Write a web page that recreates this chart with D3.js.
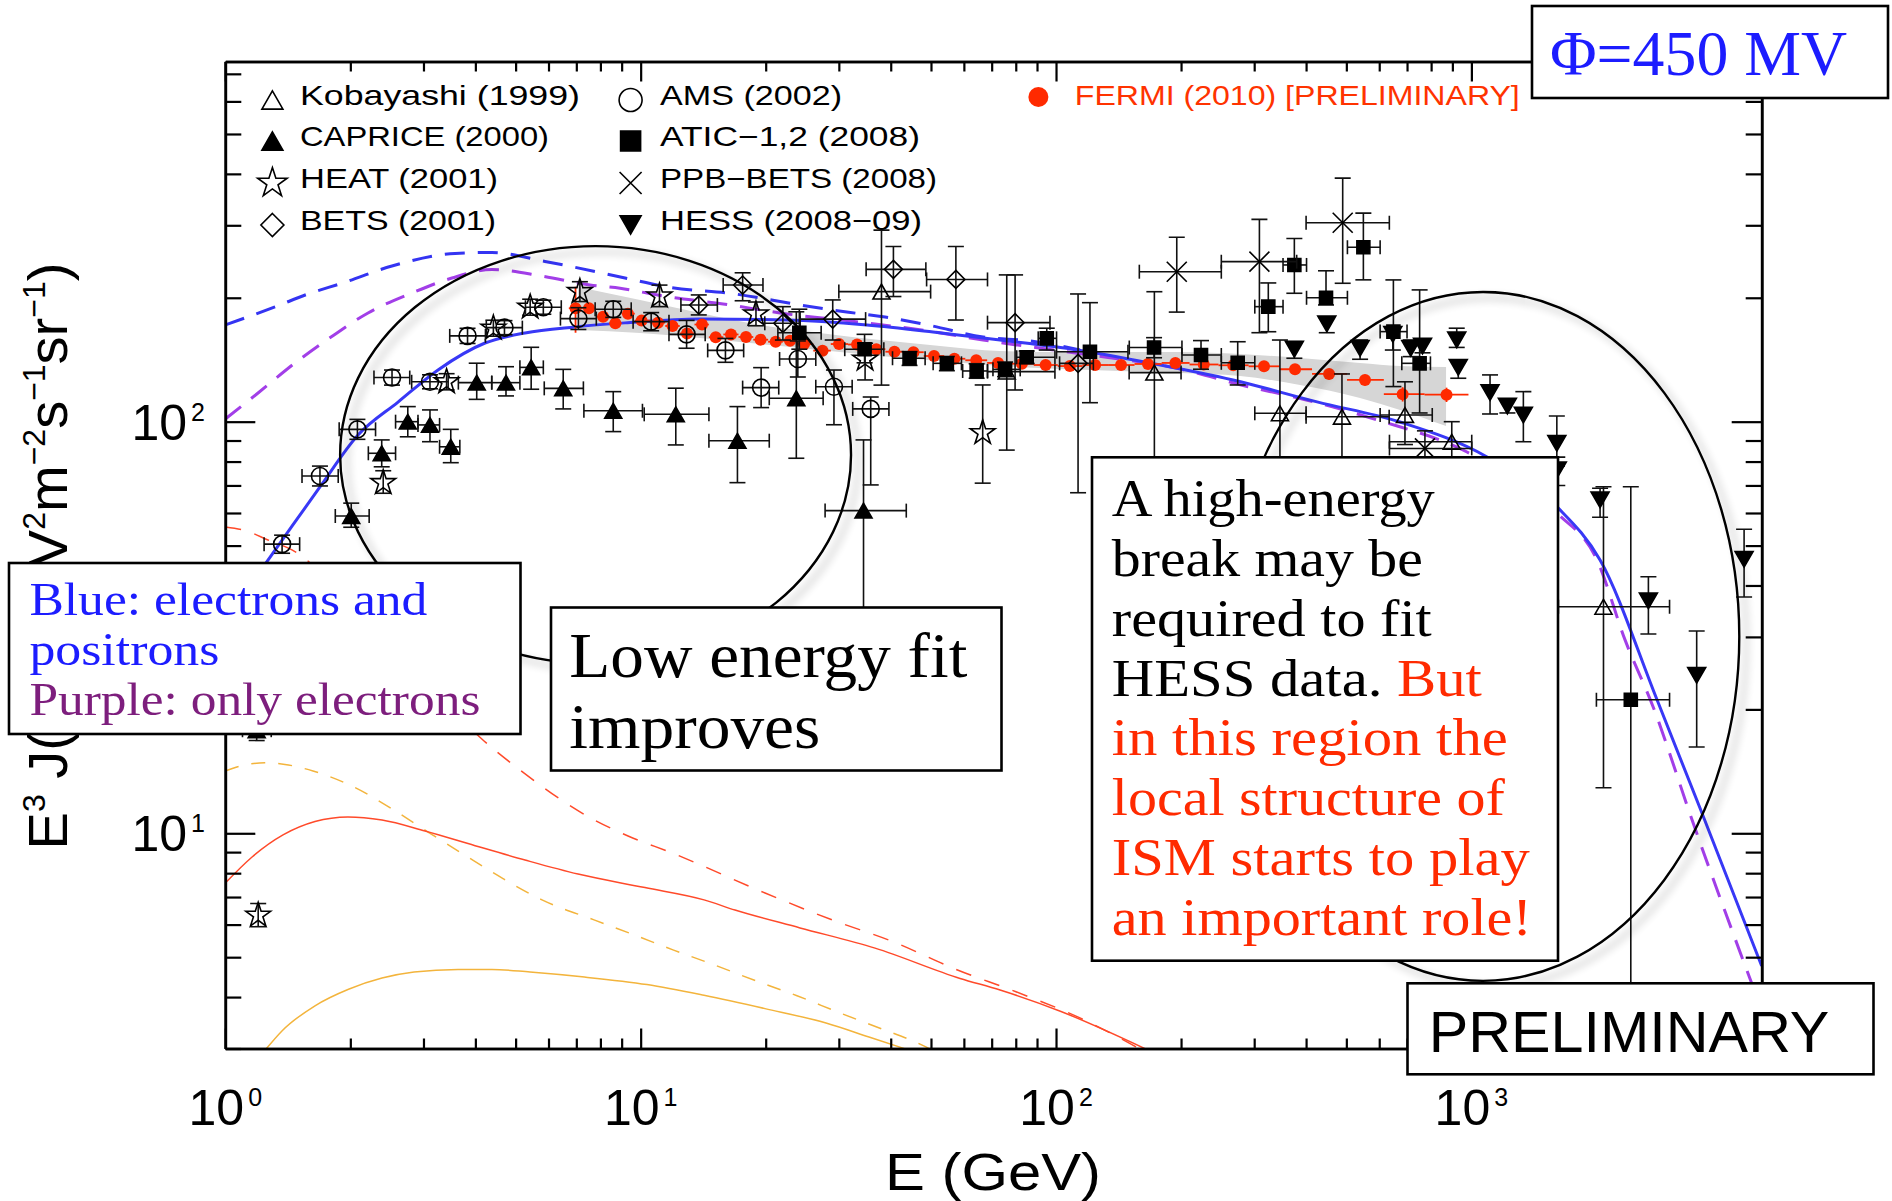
<!DOCTYPE html>
<html>
<head>
<meta charset="utf-8">
<script src="https://cdn.jsdelivr.net/npm/d3@7"></script>
<style>
  body { margin: 0; background: #fff; }
  svg { display: block; }
</style>
</head>
<body>
<svg id="chart" width="1892" height="1201"></svg>
<script>
// ---------------- data (E in GeV, E^3 J in GeV^2 m^-2 s^-1 sr^-1) ----------------
// point rows: [E, value, E low, E high, value low, value high]
const kobayashiData = [
  [38.0, 207, 30.0, 49.9, 122.7, 292],
  [76.1, 132.3, 68.4, 99.4, 85.3, 227.3],
  [172.5, 131.6, 150, 200, 82.1, 206.9],
  [346, 104.8, 301, 400, 60, 157.9],
  [488, 102.8, 400, 634, 60, 130.6],
  [692, 103.8, 603, 805, 88, 125],
  [897, 89.4, 635, 1002, 70, 100],
  [2080, 35.5, 1620, 3000, 12.9, 69.5]
];
const capriceData = [
  [1.19, 17.8, 1.10, 1.29, 16.8, 18.9],
  [2.01, 59.0, 1.84, 2.22, 55.4, 63.4],
  [2.38, 83.8, 2.21, 2.57, 77.7, 90.3],
  [2.75, 100, 2.57, 2.91, 91.9, 108.8],
  [3.11, 98.2, 2.91, 3.28, 89.4, 106.8],
  [3.49, 86.9, 3.28, 3.67, 79.5, 95.8],
  [4.03, 124.4, 3.64, 4.38, 113.3, 138.7],
  [4.74, 124.4, 4.38, 5.12, 115.5, 136.0],
  [5.45, 135.5, 5.12, 5.83, 119.9, 151.6],
  [6.51, 120.5, 5.86, 7.28, 107.4, 134.0],
  [8.59, 106.3, 7.30, 10.1, 94.6, 118.3],
  [12.15, 104.2, 10.2, 14.6, 87.8, 120.6],
  [17.1, 89.9, 14.6, 20.4, 71.1, 108.8],
  [23.7, 114, 20.4, 27.5, 81.5, 184.9],
  [34.4, 60.8, 27.8, 43.6, 20, 90.3]
];
const heatData = [
  [1.20, 6.32, null, null, 5.93, 6.75],
  [2.40, 71.1, null, null, 67.0, 76.0],
  [3.41, 125, null, null, 119.5, 130.8],
  [4.42, 168.7, null, null, 161.3, 176.4],
  [5.42, 189.7, null, null, 181.4, 198.4],
  [7.14, 207, null, null, 195.8, 218.8],
  [11.1, 202, null, null, 190.3, 214.7],
  [18.95, 182.7, null, null, 171, 195.3],
  [34.7, 141.8, null, null, 126.3, 155.1],
  [66.6, 94.0, null, null, 70.9, 122.8]
];
const betsData = [
  [13.8, 192, 12.5, 15.3, 181.7, 203.2],
  [17.6, 214.8, 15.8, 19.7, 196.7, 230],
  [22.0, 173.4, 19.9, 24.2, 157.9, 190.3],
  [29.0, 177.5, 24.2, 34.8, 157.9, 197.6],
  [40.6, 234.5, 34.9, 48.6, 201.4, 266.4],
  [57.4, 221.6, 48.8, 68.4, 176.6, 266.4],
  [79.7, 174, 68.4, 96.7, 119.4, 227.3],
  [113, 138.6, 102, 123, 67.2, 204.3]
];
const amsData = [
  [1.37, 50.4, 1.24, 1.51, 47.9, 53.0],
  [1.69, 73.8, 1.53, 1.87, 69.8, 78.0],
  [2.08, 95.8, 1.88, 2.30, 90.6, 101.3],
  [2.52, 128, 2.28, 2.78, 122.7, 133.5],
  [3.11, 125, 2.81, 3.44, 120.2, 130],
  [3.83, 161.6, 3.47, 4.23, 154.9, 168.6],
  [4.70, 169.2, 4.25, 5.19, 162.7, 176],
  [5.83, 189.7, 5.28, 6.44, 182.4, 197.3],
  [7.08, 178, 6.41, 7.82, 167.5, 189.2],
  [8.59, 187.5, 7.77, 9.49, 179.2, 196.1],
  [10.6, 175, 9.59, 11.7, 166.3, 184.1],
  [12.9, 163, 11.7, 14.3, 150.8, 176.2],
  [16.0, 149, 14.5, 17.7, 139.4, 159.3],
  [19.5, 121, 17.6, 21.5, 108.2, 135.3],
  [23.9, 142, 21.6, 26.4, 128.4, 157.1],
  [29.2, 121.6, 26.4, 32.3, 98.3, 133.5],
  [35.8, 107.4, 32.4, 39.6, 70.2, 114.8]
];
const aticData = [
  [24.1, 164.4, 21.4, 27.2, 150, 187.6],
  [34.6, 150, 31.0, 38.5, 139, 163],
  [44.4, 142.6, 40.4, 48.4, 137, 148],
  [54.6, 138.6, 50.6, 59.2, 133, 144],
  [64.4, 132.8, 59.6, 68.4, 127.5, 138.3],
  [75.4, 134, 70.5, 82.0, 128.6, 139.6],
  [85.0, 143.4, 80.4, 99.4, 138.5, 148.5],
  [95.0, 159.4, 90.6, 100.3, 149.3, 168.7],
  [120.7, 147.9, 100.3, 149, 111.2, 194.6],
  [172.2, 151.4, 150.1, 201, 143, 160],
  [223.4, 145.2, 201, 250, 134.1, 157.4],
  [273.8, 139, 250, 301, 122.8, 156.4],
  [324.4, 190.3, 301, 352, 165.4, 217.3],
  [374.8, 240.3, 352, 401, 205.1, 278.6],
  [446.7, 200, 401, 503, 192.1, 232.6],
  [549.5, 265.3, 503, 603, 221.1, 321.1],
  [649, 165.5, 603, 700, 121.7, 221],
  [750.6, 138.6, 680, 797, 105, 209],
  [2420, 21.1, 2000, 3000, 2.5, 69.5]
];
const ppbBetsData = [
  [195.3, 231.4, 158.7, 250, 184.6, 280.6],
  [308.8, 244.8, 250, 379.7, 164.5, 310.1],
  [490, 304.4, 400, 634.6, 216.9, 390.5],
  [773, 86.1, 635, 1002, 78, 95]
];
const hessData = [
  [374.8, 150, null, null, 142.6, 156.4],
  [448.6, 172.8, null, null, 164.5, 178.6],
  [539.6, 150.7, null, null, 141.8, 157.9],
  [647, 163, null, null, 149.3, 170.1],
  [714.5, 150.7, null, null, 143.9, 157.9],
  [762.7, 152.7, null, null, 147, 159],
  [922, 158, null, null, 151.5, 168.7],
  [930, 135.5, null, null, 127.5, 140.4],
  [1109, 117.7, null, null, 104.4, 129.9],
  [1221, 109.1, null, null, 105.0, 112.9],
  [1334, 103.8, null, null, 89.4, 118.3],
  [1606, 88.6, null, null, 78, 103.2],
  [1610, 76.4, null, null, 70, 82],
  [2041, 64.6, null, null, 58.6, 68.9],
  [2668, 36.7, null, null, 30.5, 42.0],
  [3487, 24.2, null, null, 16.2, 31.0],
  [4535, 46.3, null, null, 37.5, 54.8]
];

// Fermi LAT (preliminary) spectrum with systematic band
const fermiE = [6.97, 7.51, 8.12, 8.69, 9.32, 10.05, 11.01, 11.93, 12.93, 14.05, 15.16, 16.50,
  17.93, 19.44, 21.14, 22.89, 24.74, 27.41, 30.03, 33.19, 36.93, 40.83, 45.37, 50.85, 56.93,
  64.26, 72.52, 82.75, 94.41, 108.0, 124.2, 143.4, 166.5, 193.8, 226.8, 267.1, 316.8, 376.2,
  454.3, 554.5, 683.2, 871.3];
const fermiV = [188.6, 188.6, 179.9, 173.4, 183.0, 176.0, 174.0, 170.8, 163.8, 172.2, 160.4, 162.9,
  160.6, 158.2, 156.4, 157.3, 154.4, 148.8, 154.4, 154.0, 150.0, 147.9, 147.5, 144.4, 142.2,
  141.0, 138.9, 138.3, 137.3, 136.5, 137.3, 137.3, 138.1, 138.9, 137.7, 137.1, 136.3, 134.1,
  130.6, 126.3, 116.6, 116.3];
const fermiRelErr = [0.128, 0.02, 0.02, 0.02, 0.02, 0.02, 0.02, 0.02, 0.02, 0.02, 0.02, 0.02,
  0.02, 0.02, 0.02, 0.02, 0.02, 0.02, 0.02, 0.02, 0.02, 0.02, 0.02, 0.02, 0.02,
  0.02, 0.02, 0.02, 0.02, 0.02, 0.02, 0.02, 0.02, 0.02, 0.02, 0.02, 0.025, 0.025,
  0.03, 0.03, 0.04, 0.04];
const bandE  = [7.07, 9.97, 13.9, 19.4, 27.0, 37.7, 52.6, 73.3, 102.2, 142.6, 198.9, 277.3, 386.7, 539.3, 673.4, 869];
const bandHi = [212.5, 197.6, 183.7, 171.8, 164.3, 157.9, 152.7, 148.5, 147.7, 147.7, 147.7, 146.0, 142.8, 138.9, 136.6, 135.8];
const bandLo = [167.1, 164.3, 159.7, 154.4, 149.4, 144.4, 140.4, 136.6, 134.3, 132.8, 131.3, 129.1, 122.8, 114.2, 106.8, 97.6];

// model curves: [E, E^3 J]
const blueSolid = [[1.0, 33.0], [1.267, 46.1], [1.377, 51.9], [1.690, 69.4], [2.087, 92.8], [2.605, 111.6],
  [3.252, 133.6], [4.220, 155.3], [5.268, 164.3], [6.95, 169.9], [9.17, 173.8], [13.9, 177.7],
  [22.51, 176.7], [35.07, 171.8], [50.57, 165.2], [73.33, 157.9], [112.4, 149.4], [168.4, 138.9],
  [266.9, 126.3], [425.1, 111.7], [673.5, 99.8], [1091, 82.1], [1608, 62.1], [2041, 46.1],
  [2799, 21.1], [3553, 11.5], [5000, 4.76]];
const blueDashed = [[1.0, 171.8], [1.317, 190.0], [1.582, 204.3], [1.920, 217.3], [2.519, 238.9],
  [3.573, 256.3], [4.386, 257.7], [5.885, 245.1], [9.17, 223.4], [11.57, 212.5], [16.87, 204.3],
  [24.19, 192.1], [30.70, 185.2], [38.76, 179.6], [49.76, 171.3], [66.74, 160.6], [86.56, 157.1],
  [114.2, 149.4]];
const purpleDashed = [[1.0, 101.5], [1.199, 117.4], [1.472, 138.9], [1.797, 160.6], [2.206, 183.7],
  [2.816, 205.5], [3.513, 223.4], [4.386, 234.3], [5.787, 225.9], [7.552, 214.8], [8.920, 210.9],
  [11.57, 201.2], [15.79, 193.2], [22.51, 182.7], [31.39, 176.0], [50.57, 165.4], [66.74, 157.9],
  [112.4, 146.6], [195.6, 134.8], [290.0, 121.6], [372.0, 115.0], [592.9, 101.0], [976, 84.4],
  [1608, 60.0], [2007, 46.1], [2344, 29.5], [2738, 20.3], [3418, 10.6], [5000, 3.72]];
const redSolid = [[1.0, 7.57], [1.160, 8.76], [1.377, 9.91], [1.644, 10.68], [1.974, 10.96], [2.384, 10.77],
  [3.026, 10.13], [3.993, 9.33], [5.268, 8.61], [7.068, 7.96], [10.24, 7.38], [14.21, 6.89],
  [16.87, 6.51], [24.19, 5.89], [36.67, 5.26], [58.74, 4.44], [73.33, 4.16], [102.8, 3.69], [164.7, 2.99]];
const redDashed = [[1.0, 55.5], [1.122, 54.3], [1.267, 51.6], [1.447, 48.8], [1.889, 39.0], [2.492, 29.5],
  [3.289, 21.4], [4.197, 16.76], [5.124, 14.25], [7.469, 10.98], [9.325, 9.85], [11.96, 8.94],
  [19.93, 7.16], [28.89, 6.16], [40.74, 5.44], [57.14, 4.68], [80.10, 4.12], [114.2, 3.56], [159.4, 2.99]];
const orangeSolid = [[1.253, 2.99], [1.369, 3.31], [1.644, 3.81], [1.980, 4.18], [2.384, 4.45], [2.847, 4.60],
  [3.634, 4.67], [4.386, 4.67], [5.415, 4.60], [7.225, 4.48], [10.36, 4.29], [14.21, 4.04],
  [19.93, 3.75], [27.94, 3.46], [35.46, 3.20], [43.53, 2.99]];
const orangeDashed = [[1.0, 14.17], [1.115, 14.66], [1.246, 14.83], [1.392, 14.70], [1.626, 14.17],
  [2.052, 12.92], [2.519, 11.46], [3.076, 10.07], [3.777, 8.84], [4.663, 7.76], [5.787, 6.89],
  [7.722, 6.16], [9.532, 5.69], [11.96, 5.21], [15.02, 4.79], [18.95, 4.38], [23.79, 4.03],
  [30.20, 3.66], [37.69, 3.36], [46.53, 3.09], [49.74, 2.99]];

// highlighted regions: [E min, E max, value min, value max]
const lowRegion = [1.89, 32.1, 25.8, 267];
const highRegion = [257.8, 4416, 4.38, 206.6];

// axis tick labels
const xTickValues = [1, 10, 100, 1000];
const xTickExponents = ["0", "1", "2", "3"];
const yTickValues = [10, 100];
const yTickExponents = ["1", "2"];

const legendLabels = ["Kobayashi (1999)", "CAPRICE (2000)", "HEAT (2001)", "BETS (2001)",
  "AMS (2002)", "ATIC\u22121,2 (2008)", "PPB\u2212BETS (2008)", "HESS (2008\u221209)"];
const fermiLabel = "FERMI (2010) [PRELIMINARY]";

// ---------------- drawing ----------------
const RED = "#ff2a00";
const BLUE_TXT = "#1c1cff";
const PURPLE_TXT = "#7d1e7d";
const SANS = "'Liberation Sans', Arial, sans-serif";
const SERIF = "'Liberation Serif', 'Times New Roman', serif";

const svg = d3.select("#chart");
const x = d3.scaleLog().domain([1, 5000]).range([225.3, 1761.7]);
const y = d3.scaleLog().domain([3, 750]).range([1048.5, 61.5]);
const [xl, xr] = x.range();
const [yb, yt] = y.range();

const defs = svg.append("defs");
defs.append("clipPath").attr("id", "plotClip").append("rect")
  .attr("x", xl).attr("y", yt).attr("width", xr - xl).attr("height", yb - yt);

const shadow = defs.append("filter").attr("id", "softShadow")
  .attr("x", "-10%").attr("y", "-10%").attr("width", "130%").attr("height", "130%");
shadow.append("feGaussianBlur").attr("in", "SourceAlpha").attr("stdDeviation", 4).attr("result", "blur");
shadow.append("feOffset").attr("in", "blur").attr("dx", 7).attr("dy", 6).attr("result", "off");
shadow.append("feComponentTransfer").attr("in", "off").attr("result", "faint")
  .append("feFuncA").attr("type", "linear").attr("slope", 0.32);
const merge = shadow.append("feMerge");
merge.append("feMergeNode").attr("in", "faint");
merge.append("feMergeNode").attr("in", "SourceGraphic");

const plot = svg.append("g").attr("clip-path", "url(#plotClip)");

// systematic band
const bandRows = bandE.map((e, i) => [e, bandLo[i], bandHi[i]]);
plot.append("path")
  .attr("d", d3.area().x(d => x(d[0])).y0(d => y(d[1])).y1(d => y(d[2])).curve(d3.curveMonotoneX)(bandRows))
  .attr("fill", "#d6d6d6");

// model curves
const line = d3.line().x(d => x(d[0])).y(d => y(d[1])).curve(d3.curveMonotoneX);
const curveStyles = [
  [orangeSolid, "#f3b43c", 1.5, null],
  [orangeDashed, "#f3b43c", 1.5, "14,13"],
  [redSolid, "#ff4a2a", 1.5, null],
  [redDashed, "#ff4a2a", 1.5, "16,14"],
  [purpleDashed, "#a23ee8", 3, "20,13"],
  [blueDashed, "#3434f2", 3, "20,13"],
  [blueSolid, "#3838f6", 3, null]
];
curveStyles.forEach(([pts, col, w, dash]) => {
  plot.append("path").attr("d", line(pts)).attr("fill", "none")
    .attr("stroke", col).attr("stroke-width", w)
    .attr("stroke-dasharray", dash);
});

// marker shapes
function starPath(s) {
  const R = s / 2, r = R * 0.382;
  let p = "";
  for (let i = 0; i < 10; i++) {
    const a = -Math.PI / 2 + i * Math.PI / 5;
    const rr = i % 2 === 0 ? R : r;
    p += (i === 0 ? "M" : "L") + (rr * Math.cos(a)).toFixed(2) + "," + (rr * Math.sin(a)).toFixed(2);
  }
  return p + "Z";
}
const shapes = {
  triUp: s => { const h = s * 0.87; return `M0,${-h / 2}L${s / 2},${h / 2}L${-s / 2},${h / 2}Z`; },
  triDown: s => { const h = s * 0.87; return `M0,${h / 2}L${s / 2},${-h / 2}L${-s / 2},${-h / 2}Z`; },
  diamond: s => `M0,${-s / 2}L${s / 2},0L0,${s / 2}L${-s / 2},0Z`,
  square: s => `M${-s / 2},${-s / 2}h${s}v${s}h${-s}Z`,
  cross: s => `M${-s / 2},${-s / 2}L${s / 2},${s / 2}M${-s / 2},${s / 2}L${s / 2},${-s / 2}`,
  circle: s => `M${s / 2},0A${s / 2},${s / 2} 0 1,1 ${-s / 2},0A${s / 2},${s / 2} 0 1,1 ${s / 2},0Z`,
  star: starPath
};

function drawErrors(g, rows, color, sw, capH, capW) {
  rows.forEach(([E, V, Elo, Ehi, Vlo, Vhi]) => {
    const cx = x(E), cy = y(V);
    if (Elo != null && Ehi != null) {
      const x0 = x(Elo), x1 = x(Ehi);
      g.append("line").attr("x1", x0).attr("x2", x1).attr("y1", cy).attr("y2", cy);
      if (capH) {
        [x0, x1].forEach(px => g.append("line").attr("x1", px).attr("x2", px).attr("y1", cy - capH).attr("y2", cy + capH));
      }
    }
    if (Vlo != null && Vhi != null) {
      const y0 = y(Vlo), y1 = y(Vhi);
      g.append("line").attr("x1", cx).attr("x2", cx).attr("y1", y0).attr("y2", y1);
      if (capW) {
        [y0, y1].forEach(py => g.append("line").attr("x1", cx - capW).attr("x2", cx + capW).attr("y1", py).attr("y2", py));
      }
    }
  });
  g.selectAll("line").attr("stroke", color).attr("stroke-width", sw);
}

// Fermi points
const fermiRows = fermiE.map((e, i) => {
  const prev = i > 0 ? fermiE[i - 1] : fermiE[i] * fermiE[i] / fermiE[i + 1];
  const next = i < fermiE.length - 1 ? fermiE[i + 1] : fermiE[i] * fermiE[i] / fermiE[i - 1];
  return [e, fermiV[i], Math.sqrt(prev * e), Math.sqrt(e * next),
    fermiV[i] * (1 - fermiRelErr[i]), fermiV[i] * (1 + fermiRelErr[i])];
});
const fermiG = plot.append("g");
drawErrors(fermiG.append("g"), fermiRows, RED, 1.8, 0, 0);
fermiG.selectAll("circle").data(fermiRows).join("circle")
  .attr("cx", d => x(d[0])).attr("cy", d => y(d[1])).attr("r", 6).attr("fill", RED);

// other experiments
const seriesStyle = [
  [kobayashiData, "triUp", 17, false],
  [capriceData, "triUp", 17, true],
  [heatData, "star", 26, false],
  [betsData, "diamond", 18, false],
  [amsData, "circle", 17, false],
  [aticData, "square", 13, true],
  [ppbBetsData, "cross", 20, false],
  [hessData, "triDown", 18, true]
];
seriesStyle.forEach(([rows, shape, size, filled]) => {
  const g = plot.append("g");
  drawErrors(g.append("g"), rows, "#111", 1.6, 7, 8);
  g.selectAll("path.mk").data(rows).join("path").attr("class", "mk")
    .attr("transform", d => `translate(${x(d[0])},${y(d[1])})`)
    .attr("d", shapes[shape](size))
    .attr("fill", filled ? "#000" : "none")
    .attr("stroke", "#000").attr("stroke-width", 1.6);
});

// axes: ticks on all four sides pointing inward
const xAll = x.ticks();
const yAll = y.ticks();
const isDecade = v => Math.abs(Math.log10(v) - Math.round(Math.log10(v))) < 1e-9;
const xMajor = xAll.filter(isDecade), xMinor = xAll.filter(v => !isDecade(v));
const yMajor = yAll.filter(isDecade), yMinor = yAll.filter(v => !isDecade(v));
function axisLayer(axisFn, values, size, transform) {
  const g = svg.append("g").attr("transform", transform)
    .call(axisFn.tickValues(values).tickSize(size).tickSizeOuter(0).tickFormat(""));
  g.select(".domain").attr("stroke-width", 2.6).attr("stroke", "#000");
  g.selectAll(".tick line").attr("stroke-width", 2.2).attr("stroke", "#000");
}
axisLayer(d3.axisBottom(x), xMinor, -10, `translate(0,${yb})`);
axisLayer(d3.axisBottom(x), xMajor, -20, `translate(0,${yb})`);
axisLayer(d3.axisTop(x), xMinor, -10, `translate(0,${yt})`);
axisLayer(d3.axisTop(x), xMajor, -20, `translate(0,${yt})`);
axisLayer(d3.axisLeft(y), yMinor, -16, `translate(${xl},0)`);
axisLayer(d3.axisLeft(y), yMajor, -30, `translate(${xl},0)`);
axisLayer(d3.axisRight(y), yMinor, -16, `translate(${xr},0)`);
axisLayer(d3.axisRight(y), yMajor, -30, `translate(${xr},0)`);

// tick labels 10^n
xTickValues.forEach((v, i) => {
  const t = svg.append("text").attr("x", x(v)).attr("y", 1125).attr("text-anchor", "middle")
    .attr("font-family", SANS).attr("font-size", 50).attr("fill", "#000");
  t.append("tspan").text("10");
  t.append("tspan").attr("dy", -19).attr("dx", 4).attr("font-size", 25).text(xTickExponents[i]);
});
yTickValues.forEach((v, i) => {
  const t = svg.append("text").attr("x", 205).attr("y", y(v) + 18).attr("text-anchor", "end")
    .attr("font-family", SANS).attr("font-size", 50).attr("fill", "#000");
  t.append("tspan").text("10");
  t.append("tspan").attr("dy", -19).attr("dx", 4).attr("font-size", 25).text(yTickExponents[i]);
});

// axis titles
svg.append("text").attr("x", 993).attr("y", 1190).attr("text-anchor", "middle")
  .attr("font-family", SANS).attr("font-size", 52).attr("textLength", 216)
  .attr("lengthAdjust", "spacingAndGlyphs").text("E (GeV)");

const yTitle = svg.append("text").attr("transform", "translate(67,556) rotate(-90)")
  .attr("text-anchor", "middle").attr("font-family", SANS).attr("font-size", 56).attr("fill", "#000");
let raised = false;
[["E", "3"], ["\u00A0J(E)\u00A0(GeV", "2"], ["m", "\u22122"], ["s", "\u22121"], ["sr", "\u22121"], [")", null]]
  .forEach(([base, sup]) => {
    const b = yTitle.append("tspan").text(base);
    if (raised) b.attr("dy", 22);
    raised = false;
    if (sup) {
      yTitle.append("tspan").attr("dy", -22).attr("font-size", 32).text(sup);
      raised = true;
    }
  });

// legend
const legendShapes = [
  ["triUp", 21, false], ["triUp", 21, true], ["star", 31, false], ["diamond", 23, false],
  ["circle", 23, false], ["square", 20, true], ["cross", 22, false], ["triDown", 21, true]
];
const legendWidths = [280, 249, 198, 196, 182, 260, 277, 262];
const legendBaselines = [105, 146, 188, 230];
legendLabels.forEach((label, i) => {
  const col = i < 4 ? 0 : 1, row = i % 4;
  const sx = col === 0 ? 272.4 : 630.6;
  const tx = col === 0 ? 300 : 660;
  const by = legendBaselines[row];
  const [shape, size, filled] = legendShapes[i];
  svg.append("path").attr("transform", `translate(${sx},${by - 5})`)
    .attr("d", shapes[shape](size)).attr("fill", filled ? "#000" : "none")
    .attr("stroke", "#000").attr("stroke-width", 1.6);
  svg.append("text").attr("x", tx).attr("y", by).attr("font-family", SANS).attr("font-size", 28)
    .attr("textLength", legendWidths[i]).attr("lengthAdjust", "spacingAndGlyphs").text(label);
});
svg.append("circle").attr("cx", 1038.4).attr("cy", 97).attr("r", 10).attr("fill", RED);
svg.append("text").attr("x", 1074.8).attr("y", 105).attr("font-family", SANS).attr("font-size", 28)
  .attr("fill", "#ff3300").attr("textLength", 445).attr("lengthAdjust", "spacingAndGlyphs").text(fermiLabel);

// highlighted regions
[lowRegion, highRegion].forEach(([e0, e1, v0, v1]) => {
  const cx = (x(e0) + x(e1)) / 2, cy = (y(v0) + y(v1)) / 2;
  svg.append("ellipse").attr("cx", cx).attr("cy", cy)
    .attr("rx", (x(e1) - x(e0)) / 2).attr("ry", (y(v0) - y(v1)) / 2)
    .attr("fill", "none").attr("stroke", "#000").attr("stroke-width", 2.4)
    .attr("filter", "url(#softShadow)");
});

// annotation boxes
function box(bx, by, bw, bh) {
  svg.append("rect").attr("x", bx).attr("y", by).attr("width", bw).attr("height", bh)
    .attr("fill", "#fff").attr("stroke", "#000").attr("stroke-width", 2.6);
}
function noteLine(tx, ty, size, width, segments, family) {
  const t = svg.append("text").attr("x", tx).attr("y", ty).attr("font-family", family || SERIF)
    .attr("font-size", size).attr("textLength", width).attr("lengthAdjust", "spacingAndGlyphs");
  segments.forEach(([s, c]) => t.append("tspan").attr("fill", c).text(s));
}

box(1532, 6, 356, 92);
noteLine(1550, 75, 63, 297, [["\u03A6=450 MV", BLUE_TXT]]);

box(9, 563, 511.5, 171);
noteLine(29.4, 615, 46, 398, [["Blue: electrons and", BLUE_TXT]]);
noteLine(29.4, 665, 46, 190, [["positrons", BLUE_TXT]]);
noteLine(29.4, 715, 46, 451, [["Purple: only electrons", PURPLE_TXT]]);

box(551, 607.5, 450.5, 163);
noteLine(569.3, 676.7, 64, 398, [["Low energy fit", "#000"]]);
noteLine(569.3, 748.3, 64, 251, [["improves", "#000"]]);

box(1092, 457.3, 466, 503.4);
const noteHigh = [
  [["A high-energy", "#000"]],
  [["break may be", "#000"]],
  [["required to fit", "#000"]],
  [["HESS data. ", "#000"], ["But", RED]],
  [["in this region the", RED]],
  [["local structure of", RED]],
  [["ISM starts to play", RED]],
  [["an important role!", RED]]
];
const noteHighWidths = [323, 311, 320, 370, 396, 393, 418, 420];
noteHigh.forEach((segs, i) => noteLine(1111.8, 516 + i * 59.85, 53, noteHighWidths[i], segs));

box(1407.5, 983.3, 466, 91);
noteLine(1428.7, 1052.3, 58, 400.7, [["PRELIMINARY", "#000"]], SANS);
</script>
</body>
</html>
